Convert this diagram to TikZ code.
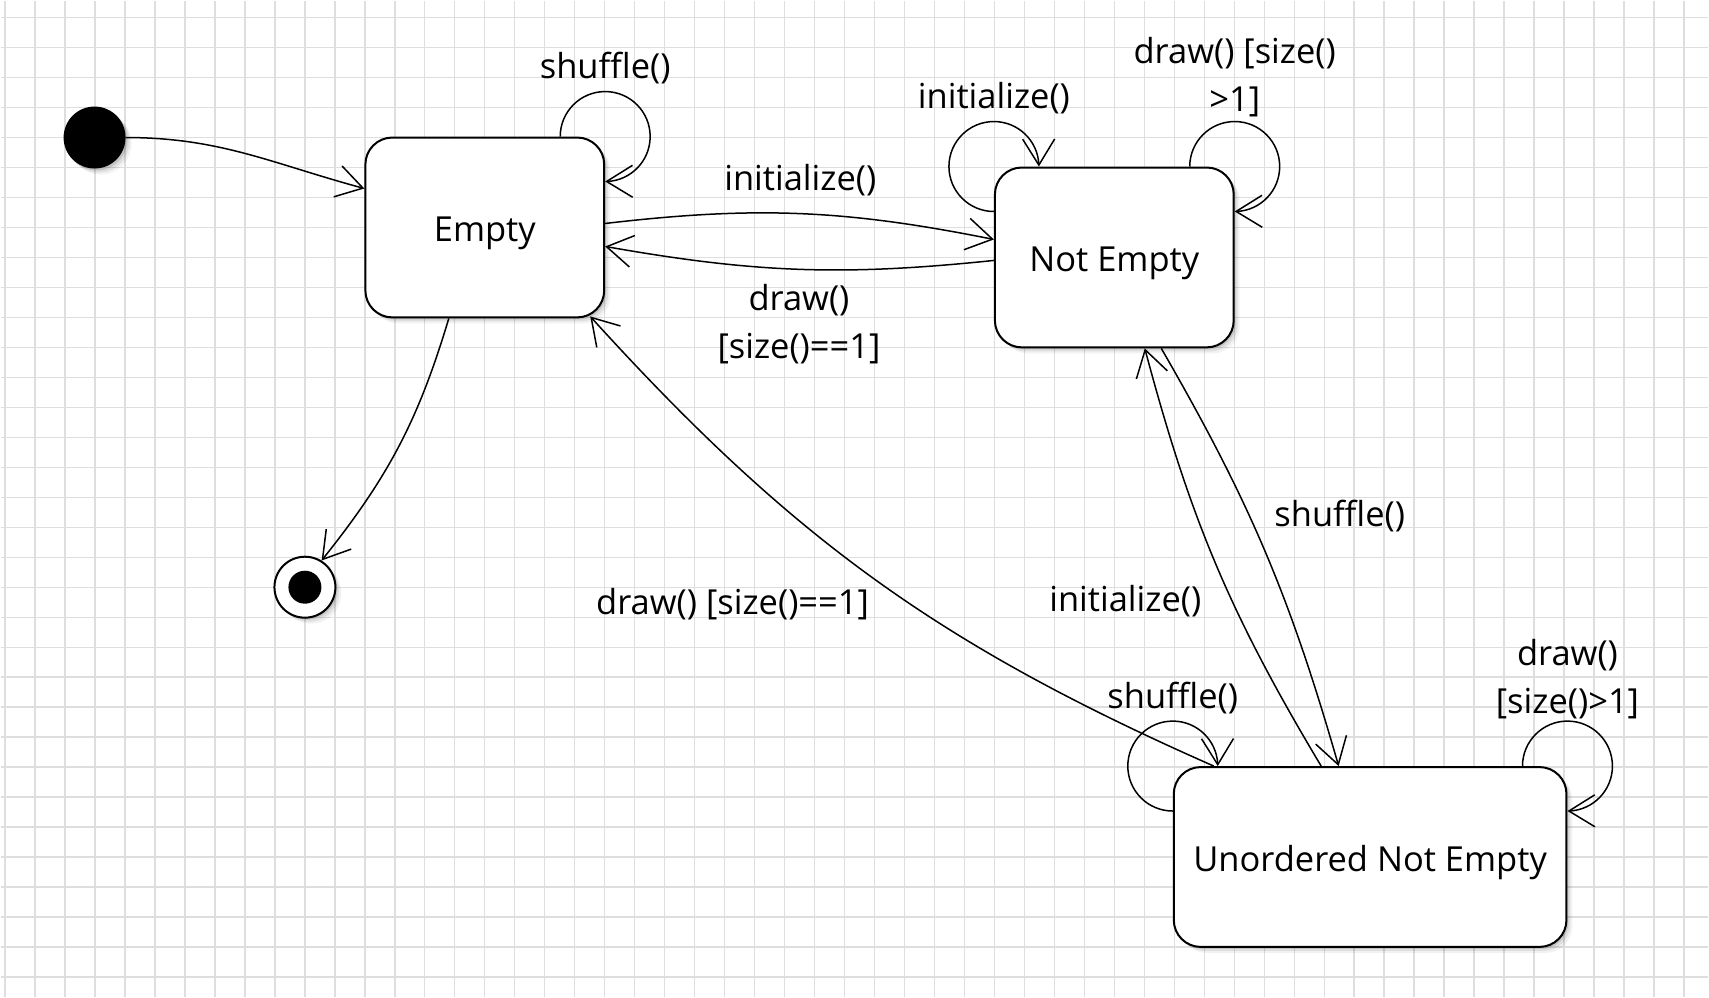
\documentclass[tikz,border=0pt]{standalone}
\usepackage{fontspec}
\setmainfont{Open Sans}
\usetikzlibrary{positioning,arrows.meta,bending,shadows}

\tikzset{
    soft shadow/.style={
        drop shadow={shadow xshift=2pt, shadow yshift=-2pt, opacity=0.12, fill=black},
        drop shadow={shadow xshift=4pt, shadow yshift=-4pt, opacity=0.08, fill=black},
        drop shadow={shadow xshift=6pt, shadow yshift=-6pt, opacity=0.05, fill=black}},
    state/.style={rectangle, rounded corners=27pt, draw=black, line width=2pt, fill=white,
        minimum width=239pt, minimum height=180pt, text height=37pt, text depth=8pt,
        font=\fontsize{34.5}{48}\selectfont, soft shadow},
    initial/.style={circle, fill=black, minimum size=62pt, inner sep=0pt, soft shadow},
    final/.style={circle, draw=black, line width=2pt, fill=white, minimum size=61pt, inner sep=0pt, soft shadow},
    trans/.style={-{Straight Barb[length=26pt, width=32pt]}, line width=1.5pt},
    lbl/.style={font=\fontsize{34.5}{48}\selectfont, inner sep=0pt, align=center},
    gridline/.style={draw=black!13, line width=1.3pt}
}

\begin{document}
\begin{tikzpicture}[x=1pt, y=1pt]

% Grid paper
\fill[white] (0,0) rectangle (1709,997);
\foreach \x in {4.5,34.5,...,1684.5} \draw[gridline] (\x,0) -- (\x,997);
\foreach \y in {20,50,...,980} \draw[gridline] (0,\y) -- (1709,\y);
\useasboundingbox (0,0) rectangle (1709,997);

% States
\node[initial] (start) at (94,860) {};
\node[state] (empty) at (484.5,770) {Empty};
\node[state] (notempty) at (1114.5,740) {Not Empty};
\node[state, minimum width=393pt] (unordered) at (1370.5,140) {Unordered Not Empty};
\node[final] (stop) at (304.5,410) {};
\fill (stop) circle (16.5pt);

% Initial and final transitions
\draw[trans] (start.east) to[out=0, in=165] ([yshift=39pt]empty.west);
\draw[trans] ([xshift=-36pt]empty.south) to[bend left=11] (stop.58);

% Empty <-> Not Empty
\draw[trans] ([yshift=4pt]empty.east) to[bend left=9]
    node[lbl, above=17pt] (lblinit) {initialize()} ([yshift=18pt]notempty.west);
\draw[trans] ([yshift=-3pt]notempty.west) to[bend left=8]
    node[lbl, below=14pt] (lbldrawone) {draw()\\{}[size()==1]} ([yshift=-19pt]empty.east);

% Not Empty <-> Unordered Not Empty
\draw[trans] ([xshift=47pt]notempty.south) to[bend left=7]
    node[lbl, pos=0.41, right=24pt] (lblshuffle) {shuffle()} ([xshift=-31.5pt]unordered.north);
\draw[trans] ([xshift=-49pt]unordered.north) to[bend left=8]
    node[lbl, pos=0.405, left=30pt] (lblreinit) {initialize()} ([xshift=30.5pt]notempty.south);

% Unordered Not Empty -> Empty
\draw[trans] ([xshift=41pt]unordered.north west) to[bend left=12]
    node[lbl, pos=0.44, left=40pt] (lbllast) {draw() [size()==1]} ([xshift=-15pt,yshift=2pt]empty.south east);

% Self loops
\draw[trans] ([xshift=-45pt]empty.north east) arc[start angle=180, end angle=-90, radius=45pt];
\node[lbl, above=52pt of empty.north east] (lblemptyloop) {shuffle()};

\draw[trans] ([yshift=-45pt]notempty.north west) arc[start angle=270, end angle=0, radius=45pt];
\node[lbl, above=52pt of notempty.north west] (lblneinit) {initialize()};

\draw[trans] ([xshift=-45pt]notempty.north east) arc[start angle=180, end angle=-90, radius=45pt];
\node[lbl, above=49pt of notempty.north east] (lblnedraw) {draw() [size()\\>1]};

\draw[trans] ([yshift=-45pt]unordered.north west) arc[start angle=270, end angle=0, radius=45pt];
\node[lbl, above=52pt of unordered.north west] (lblunshuffle) {shuffle()};

\draw[trans] ([xshift=-45pt]unordered.north east) arc[start angle=180, end angle=-90, radius=45pt];
\node[lbl, above=47pt of unordered.north east] (lblundraw) {draw()\\{}[size()>1]};

\end{tikzpicture}
\end{document}
